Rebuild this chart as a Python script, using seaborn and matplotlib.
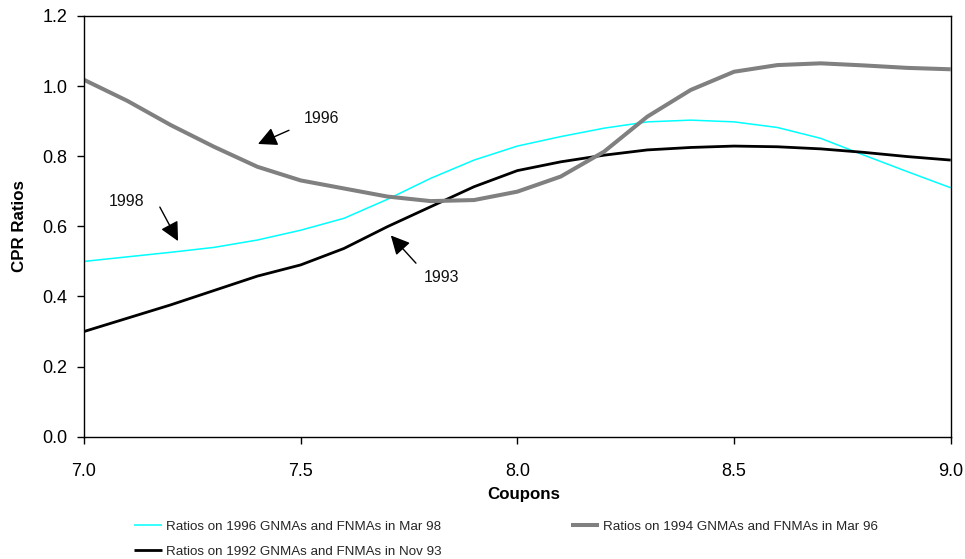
import matplotlib
matplotlib.use("Agg")
import matplotlib.pyplot as plt
import seaborn as sns
import pandas as pd
from matplotlib import font_manager

# ---- data ----
coupons = [7.0, 7.1, 7.2, 7.3, 7.4, 7.5, 7.6, 7.7, 7.8, 7.9, 8.0,
           8.1, 8.2, 8.3, 8.4, 8.5, 8.6, 8.7, 8.8, 8.9, 9.0]
ratios_mar98 = [0.500, 0.513, 0.526, 0.540, 0.561, 0.589, 0.623, 0.677, 0.737, 0.789, 0.829,
                0.856, 0.880, 0.898, 0.903, 0.898, 0.882, 0.851, 0.803, 0.756, 0.710]
ratios_mar96 = [1.018, 0.958, 0.889, 0.827, 0.770, 0.731, 0.708, 0.685, 0.672, 0.675, 0.699,
                0.742, 0.813, 0.913, 0.989, 1.041, 1.060, 1.065, 1.059, 1.052, 1.048]
ratios_nov93 = [0.300, 0.338, 0.376, 0.417, 0.458, 0.490, 0.537, 0.599, 0.656, 0.713, 0.759,
                0.784, 0.803, 0.818, 0.825, 0.829, 0.827, 0.821, 0.811, 0.799, 0.789]
series_labels = ["Ratios on 1996 GNMAs and FNMAs in Mar 98",
                 "Ratios on 1994 GNMAs and FNMAs in Mar 96",
                 "Ratios on 1992 GNMAs and FNMAs in Nov 93"]
x_ticks = [7.0, 7.5, 8.0, 8.5, 9.0]
y_ticks = [0.0, 0.2, 0.4, 0.6, 0.8, 1.0, 1.2]
annotations = ["1996", "1998", "1993"]

sns.set_theme(style="white")
avail = {f.name for f in font_manager.fontManager.ttflist}
narrow_ok = "Liberation Sans Narrow" in avail
narrow = "Liberation Sans Narrow" if narrow_ok else "Liberation Sans"
plt.rcParams["font.family"] = ["Liberation Sans", "DejaVu Sans"]

fig = plt.figure(figsize=(9.65, 5.59), dpi=100)
ax = fig.add_axes([84 / 965, 1 - 436.7 / 559, (950.7 - 84) / 965, (436.7 - 16) / 559])

df = pd.DataFrame({"Coupons": coupons, "a": ratios_mar98, "b": ratios_mar96, "c": ratios_nov93})

common = dict(ax=ax, x="Coupons", sort=False, estimator=None,
              solid_joinstyle="round", solid_capstyle="butt")
sns.lineplot(data=df, y="a", color="#00FFFF", lw=1.1, label=series_labels[0], **common)
sns.lineplot(data=df, y="c", color="#000000", lw=2.0, label=series_labels[2], **common)
sns.lineplot(data=df, y="b", color="#808080", lw=2.9, label=series_labels[1], **common)

ax.set_xlim(7.0, 9.0)
ax.set_ylim(0.0, 1.2)
ax.set_xticks(x_ticks)
ax.set_xticklabels([f"{v:.1f}" for v in x_ticks])
ax.set_yticks(y_ticks)
ax.set_yticklabels([f"{v:.1f}" for v in y_ticks])
ax.tick_params(axis="both", direction="out", length=5, width=1, color="black",
               labelsize=13, labelcolor="black")
ax.tick_params(axis="x", pad=14)
ax.tick_params(axis="y", pad=7)
ax.xaxis.set_ticks_position("bottom")
ax.yaxis.set_ticks_position("left")
for s in ax.spines.values():
    s.set_visible(True)
    s.set_color("black")
    s.set_linewidth(1.0)
ax.grid(False)

lab_size = 14 if narrow_ok else 12.2
ax.set_xlabel("Coupons", fontsize=lab_size, fontweight="bold", family=[narrow, "DejaVu Sans"], color="black")
ax.set_ylabel("CPR Ratios", fontsize=lab_size, fontweight="bold", family=[narrow, "DejaVu Sans"], color="black")
ax.xaxis.set_label_coords(0.5077, -0.119)
ax.yaxis.set_label_coords(-0.066, 0.5)

# annotations with arrows
arrow = dict(arrowstyle="-|>,head_length=0.8,head_width=0.4", color="black", lw=1.0,
             mutation_scale=14.4, shrinkA=0, shrinkB=0)
ax.annotate("", xy=(7.4015, 0.835), xytext=(7.473, 0.874), arrowprops=arrow)
ax.annotate("", xy=(7.217, 0.558), xytext=(7.175, 0.655), arrowprops=arrow)
ax.annotate("", xy=(7.708, 0.574), xytext=(7.766, 0.495), arrowprops=arrow)
tk = dict(fontsize=11.5, ha="center", va="center", color="#111111")
ax.text(7.547, 0.909, annotations[0], **tk)
ax.text(7.099, 0.672, annotations[1], **tk)
ax.text(7.826, 0.453, annotations[2], **tk)

ax.get_legend().remove()
h, l = ax.get_legend_handles_labels()
leg_size = 11.5 if narrow_ok else 9.6
leg_px = leg_size * 100 / 72
fig.legend(h, l, loc="center left", bbox_to_anchor=(134 / 965, 1 - 539 / 559),
           ncol=2, frameon=False, prop={"family": [narrow, "DejaVu Sans"], "size": leg_size},
           handlelength=28 / leg_px, handletextpad=4 / leg_px, columnspacing=129 / leg_px,
           labelspacing=(28 - 1.15 * leg_px) / leg_px, borderpad=0, borderaxespad=0)

fig.savefig("out.png", dpi=100, facecolor="white")
